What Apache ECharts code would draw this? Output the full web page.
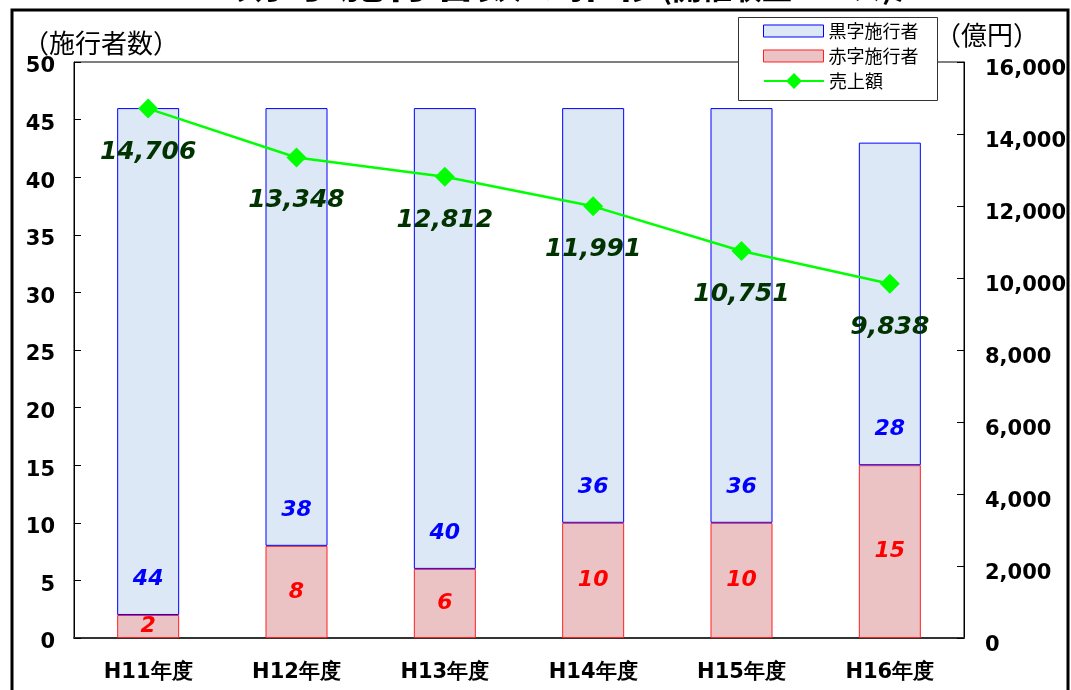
<!DOCTYPE html>
<html lang="ja">
<head>
    <meta charset="UTF-8">
    <title>赤字施行者数の推移</title>
    <script src="https://cdn.jsdelivr.net/npm/echarts@6/dist/echarts.min.js"></script>
    <style>
        html, body { margin: 0; padding: 0; background: #fff; }
    </style>
</head>
<body>
<div id="main" style="width: 1071px;height:690px;"></div>
<script type="text/javascript">
    var years = ['H11年度', 'H12年度', 'H13年度', 'H14年度', 'H15年度', 'H16年度'];
    var akaji = [2, 8, 6, 10, 10, 15];
    var kuroji = [44, 38, 40, 36, 36, 28];
    var uriage = [14706, 13348, 12812, 11991, 10751, 9838];

    var numFont = 'DejaVu Sans';
    var jpFont = 'Noto Sans CJK JP';

    var chartDom = document.getElementById('main');
    var myChart = echarts.init(chartDom);
    var option;

    option = {
        animation: false,
        textStyle: { fontFamily: numFont },
        graphic: [
            {
                type: 'rect',
                z: 0,
                shape: { x: 12, y: 10, width: 1056, height: 700 },
                style: { fill: 'none', stroke: '#000', lineWidth: 3 }
            },
            // legend box
            {
                type: 'rect',
                z: 5,
                shape: { x: 738.5, y: 17.5, width: 199, height: 83 },
                style: { fill: '#fff', stroke: '#333', lineWidth: 1 }
            },
            {
                type: 'text',
                x: 570, y: 3,
                style: {
                    text: '{a|〈赤字施行者数の推移}{b|(開催収益ベース)}{a|〉}',
                    align: 'center',
                    verticalAlign: 'bottom',
                    rich: {
                        a: { fontSize: 46, fontWeight: 'bold', fontFamily: jpFont, fill: '#000', verticalAlign: 'bottom' },
                        b: { fontSize: 30, fontWeight: 'bold', fontFamily: jpFont, fill: '#000', verticalAlign: 'bottom' }
                    }
                }
            },
            {
                type: 'text',
                x: 23, y: 43,
                style: {
                    text: '（施行者数）',
                    verticalAlign: 'middle',
                    font: '26px "Noto Sans CJK JP"',
                    fill: '#000'
                }
            },
            {
                type: 'text',
                x: 935, y: 35,
                style: {
                    text: '（億円）',
                    verticalAlign: 'middle',
                    font: '26px "Noto Sans CJK JP"',
                    fill: '#000'
                }
            }
        ],
        legend: [
            {
                orient: 'vertical',
                left: 763,
                top: 22,
                z: 10,
                padding: 0,
                itemWidth: 60,
                itemHeight: 12,
                itemGap: 7,
                icon: 'rect',
                itemStyle: { borderWidth: 1 },
                textStyle: { fontSize: 18, fontFamily: jpFont, color: '#000' },
                data: ['黒字施行者', '赤字施行者']
            },
            {
                orient: 'vertical',
                left: 763,
                top: 72,
                z: 10,
                padding: 0,
                itemWidth: 60,
                itemHeight: 20,
                textStyle: { fontSize: 18, fontFamily: jpFont, color: '#000' },
                data: ['売上額']
            }
        ],
        grid: {
            left: 74,
            right: 107,
            top: 62,
            bottom: 52,
            show: true,
            borderColor: '#000',
            borderWidth: 1
        },
        xAxis: {
            type: 'category',
            data: years,
            axisLine: { lineStyle: { color: '#333', width: 2 } },
            axisTick: { inside: true, length: 6, lineStyle: { color: '#333' } },
            axisLabel: { color: '#000', fontSize: 21, fontWeight: 'bold', margin: 24, fontFamily: numFont }
        },
        yAxis: [
            {
                type: 'value',
                min: 0, max: 50, interval: 5,
                splitLine: { show: false },
                axisLine: { show: true, lineStyle: { color: '#000' } },
                axisTick: { show: true, inside: true, length: 7, lineStyle: { color: '#000' } },
                axisLabel: {
                    color: '#000', fontSize: 21, fontWeight: 'bold', margin: 19, fontFamily: numFont,
                    verticalAlign: 'top', lineHeight: 10
                }
            },
            {
                type: 'value',
                min: 0, max: 16000, interval: 2000,
                splitLine: { show: false },
                axisLine: { show: true, lineStyle: { color: '#000' } },
                axisTick: { show: true, inside: true, length: 7, lineStyle: { color: '#000' } },
                axisLabel: {
                    color: '#000', fontSize: 21, fontWeight: 'bold', margin: 21, fontFamily: numFont,
                    verticalAlign: 'top', lineHeight: 16,
                    formatter: function (v) { return v.toLocaleString('en-US'); }
                }
            }
        ],
        series: [
            {
                name: '赤字施行者',
                type: 'bar',
                stack: 'n',
                barWidth: 62,
                data: akaji,
                itemStyle: { color: '#ebc3c5', borderColor: '#ff2020', borderWidth: 1 },
                label: {
                    show: true,
                    position: 'inside',
                    color: '#ff0000',
                    fontSize: 22,
                    fontWeight: 'bold',
                    fontStyle: 'italic',
                    fontFamily: numFont
                }
            },
            {
                name: '黒字施行者',
                type: 'bar',
                stack: 'n',
                barWidth: 62,
                data: kuroji,
                itemStyle: { color: '#dce8f6', borderColor: '#0000ff', borderWidth: 1 },
                label: {
                    show: true,
                    position: 'insideBottom',
                    distance: 25,
                    color: '#0000ff',
                    fontSize: 22,
                    fontWeight: 'bold',
                    fontStyle: 'italic',
                    fontFamily: numFont
                }
            },
            {
                name: '売上額',
                type: 'line',
                yAxisIndex: 1,
                data: uriage,
                symbol: 'diamond',
                symbolSize: 20,
                lineStyle: { color: '#00ff00', width: 2.5 },
                itemStyle: { color: '#00ff00' },
                label: {
                    show: true,
                    position: 'bottom',
                    distance: 21,
                    color: '#003300',
                    fontSize: 25,
                    fontWeight: 'bold',
                    fontStyle: 'italic',
                    fontFamily: numFont,
                    formatter: function (p) { return p.value.toLocaleString('en-US'); }
                }
            }
        ]
    };

    option && myChart.setOption(option);
    window.addEventListener("resize", function () {
        myChart.resize();
    });
</script>
</body>
</html>
